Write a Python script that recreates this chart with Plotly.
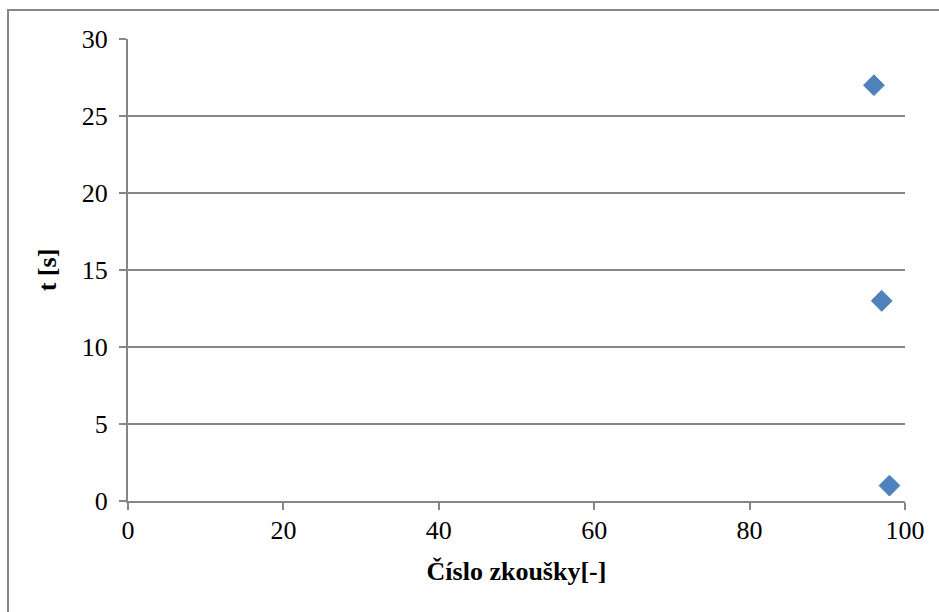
import plotly.graph_objects as go

x_vals = [96, 97, 98]
t_vals = [27, 13, 1]
x_ticks = [0, 20, 40, 60, 80, 100]
y_ticks = [0, 5, 10, 15, 20, 25, 30]

W, H = 939, 612
L, R, T, B = 128, 34, 39, 111
pw, ph = W - L - R, H - T - B

fig = go.Figure()
fig.add_trace(go.Scatter(
    x=x_vals, y=t_vals, mode="markers",
    marker=dict(symbol="diamond", size=16, color="#4F81BD",
                line=dict(width=1, color="#4A7EBB")),
    showlegend=False, cliponaxis=False,
))

font = dict(family="Liberation Serif", size=26, color="black")
fig.update_layout(
    width=W, height=H,
    margin=dict(l=L, r=R, t=T, b=B),
    paper_bgcolor="white", plot_bgcolor="white",
    font=font,
    xaxis=dict(range=[0, 100], tickvals=x_ticks,
               showgrid=False, zeroline=False,
               showline=True, linecolor="#868686", linewidth=2,
               ticks="outside", ticklen=7, tickwidth=2, tickcolor="#868686",
               ticklabelstandoff=-2, tickfont=font,
               title=dict(text="<b>Číslo zkoušky[-]</b>", standoff=18, font=font)),
    yaxis=dict(range=[0, 30], tickvals=y_ticks,
               showgrid=True, gridcolor="#868686", gridwidth=2,
               zeroline=False,
               showline=True, linecolor="#868686", linewidth=2,
               ticks="outside", ticklen=7, tickwidth=2, tickcolor="#868686",
               ticklabelstandoff=6, tickfont=font,
               title=dict(text="<b>t [s]</b>", standoff=18, font=font)),
)

# outer chart border (left and top visible)
fig.add_shape(type="rect", xref="paper", yref="paper",
              x0=(8 - L) / pw, x1=(W + 5 - L) / pw,
              y0=-(H + 5 - T - ph) / ph, y1=1 + (T - 10) / ph,
              line=dict(color="#868686", width=2), layer="below")

fig.write_html("out.html")
